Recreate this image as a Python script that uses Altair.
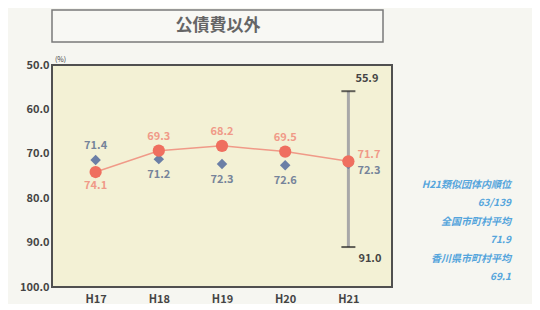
import altair as alt
import pandas as pd

years = ["H17", "H18", "H19", "H20", "H21"]
city_values = [74.1, 69.3, 68.2, 69.5, 71.7]
group_values = [71.4, 71.2, 72.3, 72.6, 72.3]
range_year = ["H21"]
range_low = [55.9]
range_high = [91.0]
title_text = "公債費以外"
unit_text = "(%)"
note_lines = ["H21類似団体内順位", "63/139", "全国市町村平均", "71.9", "香川県市町村平均", "69.1"]
y_ticks = [50, 60, 70, 80, 90, 100]

last = years[-1]
rows = []
for y, c, g in zip(years, city_values, group_values):
    if y == last:
        cpos, gpos = "right", "right2"
    elif c > g:
        cpos, gpos = "below", "above"
    else:
        cpos, gpos = "above", "below"
    rows.append({"year": y, "city": c, "group": g, "cpos": cpos, "gpos": gpos})
df = pd.DataFrame(rows)
rng = pd.DataFrame({"year": range_year, "low": range_low, "high": range_high})
notes = pd.DataFrame({"t": note_lines, "i": list(range(len(note_lines)))})

FONT = "Noto Sans CJK JP"
RED = "#ef6f5f"
REDL = "#f09a88"
BLUE = "#6b7fa6"
BLUEL = "#76849a"

xs = alt.X("year:N", sort=years,
           scale=alt.Scale(type="point", padding=0.69),
           axis=alt.Axis(title=None, labelAngle=0, ticks=False, domain=False,
                         labelFont=FONT, labelFontWeight="bold", labelFontSize=11,
                         labelColor="#444444", labelPadding=6))
ysc = alt.Scale(domain=[50, 100], reverse=True, nice=False, zero=False)

def Y(field):
    return alt.Y(f"{field}:Q", scale=ysc,
                 axis=alt.Axis(title=None, values=y_ticks, format=".1f", ticks=False,
                               domain=False, grid=False, labelFont=FONT,
                               labelFontWeight="bold", labelFontSize=11,
                               labelColor="#444444", labelPadding=3))

base = alt.Chart(df)

line = base.mark_line(color=REDL, strokeWidth=1.5).encode(x=xs, y=Y("city"))
rule = alt.Chart(rng).mark_rule(color="#a8a8a8", strokeWidth=3).encode(
    x=xs, y=Y("low"), y2="high")
cap1 = alt.Chart(rng).mark_tick(color="#222222", size=14, thickness=2).encode(x=xs, y=Y("low"))
cap2 = alt.Chart(rng).mark_tick(color="#222222", size=14, thickness=2).encode(x=xs, y=Y("high"))
lowlab = alt.Chart(rng).mark_text(font=FONT, fontSize=11, fontWeight="bold", color="#444444",
                                  align="left", dx=7, dy=-12).encode(
    x=xs, y=Y("low"), text=alt.Text("low:Q", format=".1f"))
highlab = alt.Chart(rng).mark_text(font=FONT, fontSize=11, fontWeight="bold", color="#444444",
                                   align="left", dx=10, dy=12).encode(
    x=xs, y=Y("high"), text=alt.Text("high:Q", format=".1f"))

diam = base.mark_point(shape="diamond", filled=True, size=110, color=BLUE, opacity=1).encode(
    x=xs, y=Y("group"))
circ = base.mark_circle(size=150, color=RED, opacity=1).encode(x=xs, y=Y("city"))

def lab(field, posfield, pos, color, **kw):
    return base.transform_filter(f"datum.{posfield} == '{pos}'").mark_text(
        font=FONT, fontSize=11, fontWeight="bold", color=color, **kw).encode(
        x=xs, y=Y(field), text=alt.Text(f"{field}:Q", format=".1f"))

labels = [
    lab("city", "cpos", "above", REDL, dy=-14),
    lab("city", "cpos", "below", REDL, dy=14),
    lab("group", "gpos", "above", BLUEL, dy=-14),
    lab("group", "gpos", "below", BLUEL, dy=16),
    lab("city", "cpos", "right", REDL, align="left", dx=9, dy=-6),
    lab("group", "gpos", "right2", BLUEL, align="left", dx=9, dy=7),
]

title_box = alt.Chart(pd.DataFrame({"t": [title_text]})).mark_rect(
    fill="#f8f8f4", stroke="#7a7a7a", strokeWidth=1.5).encode(
    x=alt.value(0), x2=alt.value(331), y=alt.value(-55), y2=alt.value(-23))
title_txt = alt.Chart(pd.DataFrame({"t": [title_text]})).mark_text(
    font=FONT, fontSize=17, fontWeight="bold", color="#666666").encode(
    x=alt.value(166), y=alt.value(-39), text="t:N")
unit = alt.Chart(pd.DataFrame({"t": [unit_text]})).mark_text(
    font=FONT, fontSize=7, color="#444444", align="left").encode(
    x=alt.value(3), y=alt.value(-5), text="t:N")
note = alt.Chart(notes).transform_calculate(py="120 + datum.i * 18.4").mark_text(
    font=FONT, fontSize=10, fontStyle="italic", fontWeight="bold", color="#55a5dc",
    align="right").encode(
    x=alt.value(459),
    y=alt.Y("py:Q", scale=None, axis=None),
    text="t:N")

chart = alt.layer(
    title_box, title_txt, unit, line, rule, cap1, cap2, lowlab, highlab, diam, circ,
    *labels, note
).properties(
    width=340, height=222,
    autosize=alt.AutoSizeParams(type="none"),
    padding={"left": 44, "top": 57, "right": 140, "bottom": 17},
    background="#f6f6f1",
).configure_view(fill="#f3f1d5", stroke="#505050", strokeWidth=2)

chart.save("out.html", embed_options={"renderer": "svg", "actions": False})
